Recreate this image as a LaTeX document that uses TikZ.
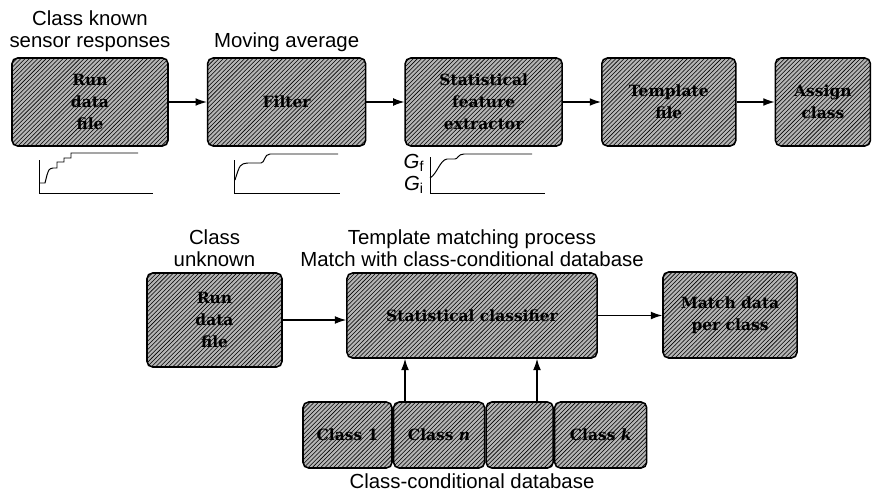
\documentclass[tikz,border=0pt]{standalone}
\usepackage{fontspec}
\setmainfont{Liberation Sans}
\newfontfamily\boxfont{DejaVu Serif}
\usepackage{tikz}
\usetikzlibrary{patterns}
\usetikzlibrary{arrows.meta}
\usetikzlibrary{positioning}

\begin{document}
\begin{tikzpicture}[x=0.025cm,y=-0.025cm,>={Latex[length=8pt,width=5.5pt]},node distance=0.95cm,
	blockbox/.style={draw,line width=1.1pt,rounded corners=4pt,preaction={fill=gray!58},
		pattern=north east lines,align=center,inner sep=0pt,
		font=\boxfont\bfseries\fontsize{11}{15.5}\selectfont},
	caption/.style={align=center,inner sep=1pt,font=\fontsize{14.5}{15.5}\selectfont}]
	\useasboundingbox (0,0) rectangle (874,493);
	\node[blockbox,minimum width=3.9cm,minimum height=2.2cm] (run1) at (90,102) {Run\\data\\file};
	\node[blockbox,minimum width=3.95cm,minimum height=2.2cm,right=of run1] (filter) {Filter};
	\node[blockbox,minimum width=3.925cm,minimum height=2.2cm,right=of filter] (feature) {Statistical\\feature\\extractor};
	\node[blockbox,minimum width=3.35cm,minimum height=2.2cm,right=of feature] (templ) {Template\\file};
	\node[blockbox,minimum width=2.375cm,minimum height=2.2cm,right=of templ] (assign) {Assign\\class};
	\foreach \a/\b in {run1/filter,filter/feature,feature/templ,templ/assign}
		\draw[->,line width=0.8pt] (\a.east) -- (\b.west);
	\node[caption,above=3pt of run1] (known) {Class known\\sensor responses};
	\node[caption,above=3pt of filter] (movavg) {Moving average};

	\draw[line width=0.7pt] (39,160) -- (39,193) -- (153,193);
	\draw[line width=0.7pt] (39,183) -- (45,183) -- (47,175) .. controls (49,169) .. (53,168) -- (57,168) -- (57,162) -- (64,162) -- (64,158) -- (71,158) -- (71,153) -- (138,153);
	\draw[line width=0.7pt] (234,160) -- (234,193) -- (340,193);
	\draw[line width=0.7pt] (235,180) .. controls (240,164) .. (248,163) -- (261,163) .. controls (265,163) and (264,154) .. (270,154) -- (338,154);
	\draw[line width=0.7pt] (430,157) -- (430,193) -- (545,193);
	\draw[line width=0.7pt] (430,178) .. controls (437,174) and (440,160) .. (447,159) -- (455,159) .. controls (458,159) and (458,154) .. (464,154) -- (532,154);
	\node[caption] (gf) at (414,163) {\textit{G}\textsubscript{f}};
	\node[caption] (gi) at (414,185) {\textit{G}\textsubscript{i}};

	\node[blockbox,minimum width=3.375cm,minimum height=2.35cm] (run2) at (214.5,320) {Run\\data\\file};
	\node[blockbox,minimum width=6.25cm,minimum height=2.125cm] (clf) at (472,315.5) {Statistical classifier};
	\node[blockbox,minimum width=3.35cm,minimum height=2.15cm] (match) at (730,315) {Match data\\per class};
	\draw[->,line width=0.8pt] (run2.east) -- (run2.east -| clf.west);
	\draw[->,line width=0.8pt] (clf.east) -- (clf.east -| match.west);
	\node[caption,above=3pt of run2] (unknown) {Class\\unknown};
	\node[caption,above=3pt of clf] (process) {Template matching process\\Match with class-conditional database};

	\node[blockbox,minimum width=2.225cm,minimum height=1.65cm] (cls1) at (347.5,435) {Class 1};
	\node[blockbox,minimum width=2.275cm,minimum height=1.65cm,right=0pt of cls1] (clsn) {Class \textit{n}};
	\node[blockbox,minimum width=1.675cm,minimum height=1.65cm,right=0pt of clsn] (clsx) {};
	\node[blockbox,minimum width=2.3cm,minimum height=1.65cm,right=0pt of clsx] (clsk) {Class \textit{k}};
	\node[caption] (dbname) at (472,481) {Class-conditional database};
	\coordinate (up1) at (405,402);
	\coordinate (up2) at (537,402);
	\draw[->,line width=0.8pt] (up1) -- (up1 |- clf.south);
	\draw[->,line width=0.8pt] (up2) -- (up2 |- clf.south);
\end{tikzpicture}
\end{document}
